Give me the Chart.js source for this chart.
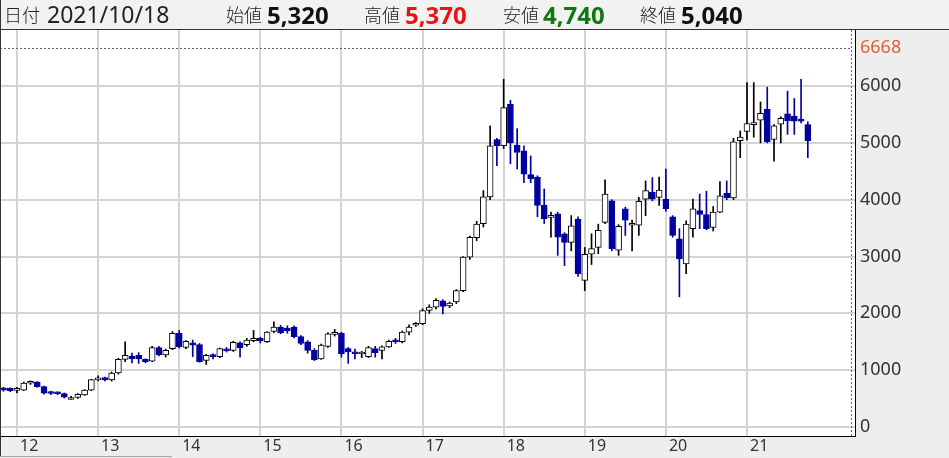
<!DOCTYPE html>
<html><head><meta charset="utf-8">
<script src="https://cdn.jsdelivr.net/npm/chart.js@4/dist/chart.umd.min.js"></script>
<style>
html,body{margin:0;padding:0;background:#fff;}
#wrap{position:relative;width:949px;height:458px;background:#eeeeee;overflow:hidden;}
#c{position:absolute;left:0;top:0;}
#hdr{position:absolute;left:0;top:0;width:949px;height:29px;border-bottom:1px solid #333;background:#f2f2f2;color:#222;white-space:nowrap;}
.it{position:absolute;top:0;height:29px;line-height:29px;}
.lb{font-family:"Noto Sans CJK JP",sans-serif;font-size:18px;font-weight:300;}
.dt{font-family:"Noto Sans",sans-serif;font-size:23px;}
.v{font-family:"Noto Sans",sans-serif;font-weight:bold;font-size:24px;}
#lline{position:absolute;left:0;top:0;width:1px;height:458px;background:#333;}
#sb{position:absolute;left:0;top:456px;width:172px;height:2px;border-top:1px solid #aaa;background:#e4e4e4;}
</style></head>
<body>
<div id="wrap">
<canvas id="c" width="949" height="458"></canvas>
<div id="hdr"></div>
<div id="lline"></div>
<div id="sb"></div>
</div>
<script>
const months = [
 '2011-11','2011-12',
 '2012-01','2012-02','2012-03','2012-04','2012-05','2012-06','2012-07','2012-08','2012-09','2012-10','2012-11','2012-12',
 '2013-01','2013-02','2013-03','2013-04','2013-05','2013-06','2013-07','2013-08','2013-09','2013-10','2013-11','2013-12',
 '2014-01','2014-02','2014-03','2014-04','2014-05','2014-06','2014-07','2014-08','2014-09','2014-10','2014-11','2014-12',
 '2015-01','2015-02','2015-03','2015-04','2015-05','2015-06','2015-07','2015-08','2015-09','2015-10','2015-11','2015-12',
 '2016-01','2016-02','2016-03','2016-04','2016-05','2016-06','2016-07','2016-08','2016-09','2016-10','2016-11','2016-12',
 '2017-01','2017-02','2017-03','2017-04','2017-05','2017-06','2017-07','2017-08','2017-09','2017-10','2017-11','2017-12',
 '2018-01','2018-02','2018-03','2018-04','2018-05','2018-06','2018-07','2018-08','2018-09','2018-10','2018-11','2018-12',
 '2019-01','2019-02','2019-03','2019-04','2019-05','2019-06','2019-07','2019-08','2019-09','2019-10','2019-11','2019-12',
 '2020-01','2020-02','2020-03','2020-04','2020-05','2020-06','2020-07','2020-08','2020-09','2020-10','2020-11','2020-12',
 '2021-01','2021-02','2021-03','2021-04','2021-05','2021-06','2021-07','2021-08','2021-09','2021-10'
];
const opens = [
 690,680,
 645,650,770,790,710,615,600,590,520,520,565,650,
 830,870,830,950,1190,1250,1260,1190,1160,1400,1270,1380,
 1650,1400,1480,1450,1170,1260,1240,1370,1350,1480,1450,1520,
 1560,1500,1680,1760,1740,1760,1590,1500,1350,1200,1420,1630,
 1650,1380,1320,1285,1240,1380,1350,1410,1530,1500,1670,1790,
 1820,2050,2110,2220,2130,2200,2400,2990,3330,3580,4050,5060,
 4950,5680,4960,4860,4440,4400,3900,3690,3750,3400,3250,3660,
 2580,3040,3160,3600,3980,3110,3840,3550,3550,4010,4130,4040,
 4010,3700,3310,2870,3490,3810,3740,3510,3780,4110,4030,5040,
 5200,5320,5400,5590,5060,5330,5510,5470,5420,5320
];
const highs = [
 700,690,
 700,790,810,800,720,630,620,600,540,590,660,840,
 900,880,970,1210,1500,1300,1310,1200,1420,1420,1370,1680,
 1700,1520,1530,1470,1280,1290,1390,1400,1510,1500,1560,1700,
 1580,1680,1850,1790,1780,1780,1610,1520,1380,1460,1660,1720,
 1670,1400,1370,1330,1420,1420,1430,1530,1560,1690,1800,1840,
 2080,2150,2260,2240,2200,2420,3000,3360,3620,4160,5300,5080,
 6120,5750,5250,4950,4770,4420,4190,3780,3780,3420,3720,3700,
 3160,3400,3570,4350,4000,3560,3870,3640,4040,4330,4390,4400,
 4540,3720,3490,3630,4010,4100,4150,3880,4320,4330,5080,5210,
 6060,6060,5720,5980,5320,5460,5910,5780,6120,5370
];
const lows = [
 630,620,
 600,640,750,700,580,570,570,510,490,505,555,640,
 810,810,810,930,1150,1130,1120,1130,1150,1250,1230,1360,
 1390,1380,1240,1140,1100,1200,1220,1320,1330,1230,1420,1500,
 1480,1490,1660,1640,1650,1570,1450,1300,1170,1190,1400,1600,
 1230,1120,1200,1220,1220,1230,1200,1400,1470,1480,1620,1770,
 1800,2000,2080,1990,2100,2170,2380,2950,3280,3520,4000,4600,
 4900,4630,4540,4300,4300,3700,3580,3340,3020,2840,3100,2650,
 2400,2860,3050,3580,3100,3020,3370,3100,3370,3720,3980,3900,
 3800,3340,2290,2700,3340,3490,3470,3450,3770,4000,4000,4740,
 5050,5100,5000,5000,4680,5000,5150,5150,5350,4740
];
const closes = [
 650,640,
 655,775,800,710,595,590,585,525,520,575,650,835,
 860,830,950,1190,1260,1200,1200,1150,1400,1270,1350,1650,
 1410,1510,1440,1150,1260,1240,1380,1340,1490,1390,1530,1560,
 1520,1670,1760,1660,1690,1590,1470,1350,1180,1440,1640,1650,
 1290,1320,1290,1290,1400,1310,1410,1510,1500,1670,1760,1810,
 2050,2110,2230,2120,2180,2400,2990,3340,3570,4050,4950,4950,
 5620,5000,4830,4450,4370,3900,3660,3700,3340,3250,3540,2700,
 3040,3140,3460,4100,3140,3530,3640,3560,3970,4160,4010,4170,
 3840,3370,2960,3570,3840,3740,3490,3780,4070,4030,5020,5100,
 5340,5330,5520,5020,5300,5430,5390,5380,5380,5040
];
const yearLabels = ['12','13','14','15','16','17','18','19','20','21'];
const yTicks = [0,1000,2000,3000,4000,5000,6000];
const peakValue = 6668;
const headerDate = '2021/10/18';
const headerLabels = ['日付','始値','高値','安値','終値'];

const BLUE = '#0000a0';
const monthIdx = s => { const [y,m] = s.split('-').map(Number); return (y-2012)*12 + (m-1); };
const isUp = i => closes[i] >= opens[i];

// header
(function(){
  const hdr = document.getElementById('hdr');
  const n = closes.length - 1;
  const fmt = v => v.toLocaleString('en-US');
  const items = [
    {t:headerLabels[0], c:'lb', x:4},
    {t:headerDate, c:'dt', x:47},
    {t:headerLabels[1], c:'lb', x:226},
    {t:fmt(opens[n]), c:'v', x:267, col:'#111'},
    {t:headerLabels[2], c:'lb', x:364},
    {t:fmt(highs[n]), c:'v', x:405, col:'#ee1111'},
    {t:headerLabels[3], c:'lb', x:503},
    {t:fmt(lows[n]), c:'v', x:543, col:'#117711'},
    {t:headerLabels[4], c:'lb', x:640},
    {t:fmt(closes[n]), c:'v', x:681, col:'#111'}
  ];
  items.forEach(it => {
    const s = document.createElement('span');
    s.className = 'it ' + it.c; s.textContent = it.t; s.style.left = it.x + 'px';
    if (it.col) s.style.color = it.col;
    hdr.appendChild(s);
  });
})();

const bodyData = months.map((m,i) => ({x: monthIdx(m), y: [Math.min(opens[i],closes[i]), Math.max(opens[i],closes[i])]}));
const wickData = months.map((m,i) => ({x: monthIdx(m), y: [lows[i], highs[i]]}));

const bgPlugin = {
  id:'bg',
  beforeDraw(chart){
    const {ctx, chartArea:a} = chart;
    ctx.save(); ctx.fillStyle = '#ffffff';
    ctx.fillRect(a.left, a.top, a.right-a.left, a.bottom-a.top);
    ctx.restore();
  },
  beforeDatasetsDraw(chart){
    const {ctx, chartArea:a, scales} = chart;
    const y = Math.round(scales.y.getPixelForValue(peakValue)) + 0.5;
    ctx.save();
    ctx.strokeStyle = '#666'; ctx.lineWidth = 1; ctx.setLineDash([2,2]);
    ctx.beginPath(); ctx.moveTo(a.left, y); ctx.lineTo(a.right-3, y); ctx.stroke();
    const x = a.right - 3.5;
    ctx.beginPath(); ctx.moveTo(x, a.top); ctx.lineTo(x, a.bottom); ctx.stroke();
    ctx.restore();
  }
};

new Chart(document.getElementById('c'), {
  type:'bar',
  data:{
    datasets:[
      { label:'body', data: bodyData, grouped:false, barThickness:6, minBarLength:2,
        backgroundColor: months.map((m,i)=> isUp(i) ? '#ffffff' : BLUE),
        borderColor: months.map((m,i)=> isUp(i) ? '#000000' : BLUE),
        borderWidth:1, borderSkipped:false },
      { label:'wick', data: wickData, grouped:false, barThickness:1,
        backgroundColor: months.map((m,i)=> isUp(i) ? '#000000' : BLUE),
        borderWidth:0 }
    ]
  },
  options:{
    responsive:false, animation:false,
    layout:{padding:{top:30,left:0,right:0,bottom:0}},
    plugins:{legend:{display:false}, tooltip:{enabled:false}},
    scales:{
      x:{ type:'linear', min:-2.515, max:123.98, offset:false,
        afterBuildTicks: s => { s.ticks = yearLabels.map((l,i)=>({value:i*12})); },
        afterFit: s => { s.height = 22; },
        grid:{ color:'#d4d4d4', lineWidth:2, drawTicks:false, offset:false },
        border:{ display:true, color:'#000', width:1 },
        ticks:{ autoSkip:false, maxRotation:0, align:'start', labelOffset:3, padding:1,
          font:{family:'Noto Sans', size:16}, color:'#333',
          callback:(v,i)=> yearLabels[i] }
      },
      y:{ type:'linear', position:'right', min:-158, max:6986,
        afterBuildTicks: s => { s.ticks = yTicks.concat([peakValue]).map(v=>({value:v})); },
        afterFit: s => { s.width = 94; },
        grid:{ color: c => (c.tick && c.tick.value===peakValue) ? 'rgba(0,0,0,0)' : '#d4d4d4', lineWidth:2, drawTicks:false },
        border:{ display:true, color:'#000', width:1 },
        ticks:{ padding:5, font:{family:'Noto Sans', size:18},
          color: c => (c.tick && c.tick.value===peakValue) ? '#e4603a' : '#333',
          callback: v => String(v) }
      }
    }
  },
  plugins:[bgPlugin]
});
</script>
</body></html>
